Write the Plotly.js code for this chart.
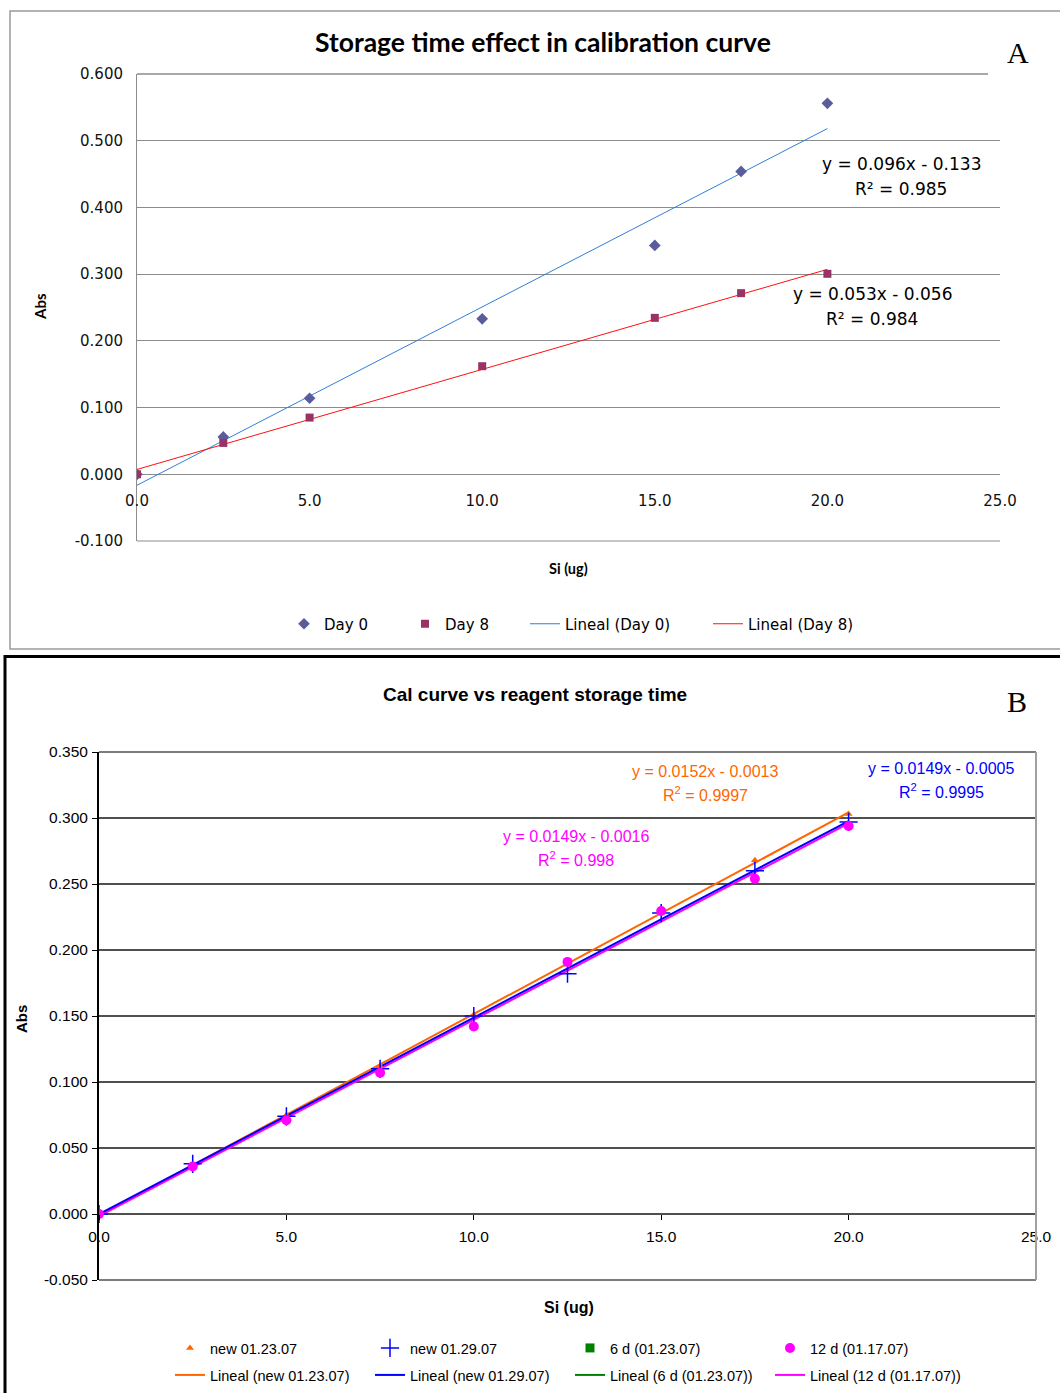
<!DOCTYPE html>
<html>
<head>
<meta charset="utf-8">
<script src="https://cdn.plot.ly/plotly-3.0.1.min.js"></script>
<style>
  html, body { margin: 0; padding: 0; background: #fff; }
  #chart { width: 1060px; height: 1393px; }
</style>
</head>
<body>
<div id="chart"></div>
<script>
// ---------- Chart A data ----------
const xA = [0, 2.5, 5, 10, 15, 17.5, 20];
const day0 = [0, 0.056, 0.114, 0.233, 0.343, 0.454, 0.556];
const day8 = [0, 0.047, 0.085, 0.162, 0.2345, 0.2715, 0.3005];
const namesA = ['Day 0', 'Day 8', 'Lineal (Day 0)', 'Lineal (Day 8)'];
const xTickValsA = [0, 5, 10, 15, 20, 25];
const xTickTextA = ['0.0', '5.0', '10.0', '15.0', '20.0', '25.0'];
const yTickValsA = [-0.1, 0, 0.1, 0.2, 0.3, 0.4, 0.5, 0.6];
const yTickTextA = ['-0.100', '0.000', '0.100', '0.200', '0.300', '0.400', '0.500', '0.600'];
const eqA0 = ['y = 0.096x - 0.133', 'R² = 0.985'];
const eqA8 = ['y = 0.053x - 0.056', 'R² = 0.984'];

// ---------- Chart B data ----------
const xB = [0, 2.5, 5, 7.5, 10, 12.5, 15, 17.5, 20];
const new0123 = [0, 0.037, 0.075, 0.112, 0.151, 0.189, 0.229, 0.268, 0.303];
const new0129 = [0, 0.038, 0.074, 0.110, 0.150, 0.182, 0.228, 0.260, 0.297];
const d6_0123 = [null];
const d12_0117 = [0, 0.036, 0.071, 0.107, 0.142, 0.191, 0.2295, 0.254, 0.294];
const namesB = ['new 01.23.07', 'new 01.29.07', '6 d (01.23.07)', '12 d (01.17.07)'];
const xTickValsB = [0, 5, 10, 15, 20, 25];
const xTickTextB = ['0.0', '5.0', '10.0', '15.0', '20.0', '25.0'];
const yTickValsB = [-0.05, 0, 0.05, 0.1, 0.15, 0.2, 0.25, 0.3, 0.35];
const yTickTextB = ['-0.050', '0.000', '0.050', '0.100', '0.150', '0.200', '0.250', '0.300', '0.350'];
const eqBorange = ['y = 0.0152x - 0.0013', 'R<sup>2</sup> = 0.9997'];
const eqBblue = ['y = 0.0149x - 0.0005', 'R<sup>2</sup> = 0.9995'];
const eqBmag = ['y = 0.0149x - 0.0016', 'R<sup>2</sup> = 0.998'];

// ---------- helpers ----------
const W = 1060, H = 1393;
const px = v => v / W;
const py = v => 1 - v / H;

function fitLine(xs, ys) {
  const pts = xs.map((x, i) => [x, ys[i]]).filter(p => p[1] !== null && p[1] !== undefined);
  if (pts.length < 2) return { x: [null], y: [null] };
  const n = pts.length;
  const mx = pts.reduce((s, p) => s + p[0], 0) / n;
  const my = pts.reduce((s, p) => s + p[1], 0) / n;
  let sxy = 0, sxx = 0;
  pts.forEach(p => { sxy += (p[0] - mx) * (p[1] - my); sxx += (p[0] - mx) ** 2; });
  const b = sxy / sxx, a = my - b * mx;
  const xmin = Math.min(...pts.map(p => p[0])), xmax = Math.max(...pts.map(p => p[0]));
  return { x: [xmin, xmax], y: [a + b * xmin, a + b * xmax] };
}

const fontA = 'DejaVu Sans, sans-serif';
const fontAbold = 'Lato, Calibri, sans-serif';
const fontB = 'Liberation Sans, Arial, sans-serif';

// ---------- traces ----------
const fA0 = fitLine(xA, day0), fA8 = fitLine(xA, day8);
const fB1 = fitLine(xB, new0123), fB2 = fitLine(xB, new0129), fB3 = fitLine(xB, d6_0123), fB4 = fitLine(xB, d12_0117);

const traces = [
  // Chart A lines
  { x: fA0.x, y: fA0.y, xaxis: 'x', yaxis: 'y', mode: 'lines', name: namesA[2], line: { color: '#2f7fd8', width: 1 }, legend: 'legend', legendrank: 3, legendwidth: 138 },
  { x: fA8.x, y: fA8.y, xaxis: 'x', yaxis: 'y', mode: 'lines', name: namesA[3], line: { color: '#ff1010', width: 1 }, legend: 'legend', legendrank: 4 },
  // Chart A markers
  { x: xA, y: day0, xaxis: 'x', yaxis: 'y', mode: 'markers', name: namesA[0], marker: { symbol: 'diamond', size: 9, color: '#5b5d9b' }, legend: 'legend', legendrank: 1, legendwidth: 76 },
  { x: xA, y: day8, xaxis: 'x', yaxis: 'y', mode: 'markers', name: namesA[1], marker: { symbol: 'square', size: 8, color: '#993366' }, legend: 'legend', legendrank: 2, legendwidth: 75 },

  // Chart B lines
  { x: fB1.x, y: fB1.y, xaxis: 'x2', yaxis: 'y2', mode: 'lines', name: 'Lineal (' + namesB[0] + ')', line: { color: '#ff6600', width: 2 }, legend: 'legend3', legendrank: 1, legendwidth: 155 },
  { x: fB3.x, y: fB3.y, xaxis: 'x2', yaxis: 'y2', mode: 'lines', name: 'Lineal (' + namesB[2] + ')', line: { color: '#008000', width: 2 }, legend: 'legend3', legendrank: 3, legendwidth: 155 },
  { x: fB4.x, y: fB4.y, xaxis: 'x2', yaxis: 'y2', mode: 'lines', name: 'Lineal (' + namesB[3] + ')', line: { color: '#ff00ff', width: 2 }, legend: 'legend3', legendrank: 4, legendwidth: 155 },
  { x: fB2.x, y: fB2.y, xaxis: 'x2', yaxis: 'y2', mode: 'lines', name: 'Lineal (' + namesB[1] + ')', line: { color: '#0000ff', width: 2 }, legend: 'legend3', legendrank: 2, legendwidth: 155 },
  // Chart B markers
  { x: xB, y: new0123, xaxis: 'x2', yaxis: 'y2', mode: 'markers', name: namesB[0], marker: { symbol: 'triangle-up', size: 7, color: '#ff6600' }, legend: 'legend2', legendrank: 1, legendwidth: 155 },
  { x: xB, y: new0129, xaxis: 'x2', yaxis: 'y2', mode: 'markers', name: namesB[1], marker: { symbol: 'cross-thin-open', size: 13, color: '#0000ff', line: { width: 1.5, color: '#0000ff' } }, legend: 'legend2', legendrank: 2, legendwidth: 155 },
  { x: xB, y: d6_0123, xaxis: 'x2', yaxis: 'y2', mode: 'markers', name: namesB[2], marker: { symbol: 'square', size: 9, color: '#008000' }, legend: 'legend2', legendrank: 3, legendwidth: 155 },
  { x: xB, y: d12_0117, xaxis: 'x2', yaxis: 'y2', mode: 'markers', name: namesB[3], marker: { symbol: 'circle', size: 10, color: '#ff00ff' }, legend: 'legend2', legendrank: 4, legendwidth: 155 }
];

// ---------- geometry ----------
const domXA = [px(137), px(1000)];
const domYA = [py(541), py(74)];
const domXB = [px(99), px(1036)];
const domYB = [py(1280), py(752)];
const zeroPosA = domYA[0] + (domYA[1] - domYA[0]) * (0.1 / 0.7);
const zeroPosB = domYB[0] + (domYB[1] - domYB[0]) * (0.05 / 0.40);

function ann(text, x, y, font, extra) {
  return Object.assign({ text, x: px(x), y: py(y), xref: 'paper', yref: 'paper', showarrow: false, xanchor: 'center', yanchor: 'middle', font }, extra || {});
}

const annotations = [
  ann('Storage time effect in calibration curve', 543, 42, { family: fontAbold, size: 26.5, color: '#000', weight: 'bold' }),
  ann('A', 1018, 53, { family: 'Liberation Serif, Times New Roman, serif', size: 30, color: '#000' }),
  ann('Abs', 40, 307, { family: fontAbold, size: 15, color: '#000', weight: 'bold' }, { textangle: -90 }),
  ann('Si (ug)', 568, 568, { family: fontAbold, size: 14.5, color: '#000', weight: 'bold' }),
  ann(eqA0[0], 901, 164, { family: fontA, size: 17, color: '#000' }),
  ann(eqA0[1], 901, 189, { family: fontA, size: 17, color: '#000' }),
  ann(eqA8[0], 872, 294, { family: fontA, size: 17, color: '#000' }),
  ann(eqA8[1], 872, 319, { family: fontA, size: 17, color: '#000' }),

  ann('Cal curve vs reagent storage time', 535, 694, { family: fontB, size: 19, color: '#000', weight: 'bold' }),
  ann('B', 1017, 701, { family: 'Liberation Serif, Times New Roman, serif', size: 30, color: '#000' }),
  ann('Abs', 21, 1019, { family: fontB, size: 15, color: '#000', weight: 'bold' }, { textangle: -90 }),
  ann('Si (ug)', 569, 1307, { family: fontB, size: 16, color: '#000', weight: 'bold' }),
  ann(eqBorange[0], 705, 771, { family: fontB, size: 16, color: '#ff6600' }),
  ann(eqBorange[1], 705, 794, { family: fontB, size: 16, color: '#ff6600' }),
  ann(eqBblue[0], 941, 768, { family: fontB, size: 16, color: '#0000ff' }),
  ann(eqBblue[1], 941, 791, { family: fontB, size: 16, color: '#0000ff' }),
  ann(eqBmag[0], 576, 836, { family: fontB, size: 16, color: '#ff00ff' }),
  ann(eqBmag[1], 576, 859, { family: fontB, size: 16, color: '#ff00ff' })
];

const shapes = [
  // outer frames
  { type: 'rect', xref: 'paper', yref: 'paper', x0: px(10), x1: px(1070), y0: py(11), y1: py(649), line: { color: '#9a9a9a', width: 1.5 } },
  { type: 'rect', xref: 'paper', yref: 'paper', x0: px(5), x1: px(1075), y0: py(656.5), y1: py(1400), line: { color: '#000', width: 3 } },
  // chart A top and bottom edges of plot area
  { type: 'line', xref: 'paper', yref: 'paper', x0: px(137), x1: px(988), y0: py(74), y1: py(74), line: { color: '#8c8c8c', width: 1.5 } },
  { type: 'line', xref: 'paper', yref: 'paper', x0: px(137), x1: px(1000), y0: py(541), y1: py(541), line: { color: '#8c8c8c', width: 1 } },
  // chart B top, bottom, right edges
  { type: 'line', xref: 'paper', yref: 'paper', x0: px(99), x1: px(1036), y0: py(752), y1: py(752), line: { color: '#505050', width: 1.5 } },
  { type: 'line', xref: 'paper', yref: 'paper', x0: px(99), x1: px(1036), y0: py(1280), y1: py(1280), line: { color: '#505050', width: 1.5 } },
  { type: 'line', xref: 'paper', yref: 'paper', x0: px(1036), x1: px(1036), y0: py(752), y1: py(1280), line: { color: '#a0a0a0', width: 2 } }
];

const layout = {
  width: W, height: H,
  margin: { l: 0, r: 0, t: 0, b: 0, pad: 0 },
  paper_bgcolor: '#fff', plot_bgcolor: 'rgba(0,0,0,0)',
  showlegend: true,
  xaxis: {
    domain: domXA, range: [0, 25], anchor: 'free', position: zeroPosA,
    tickvals: xTickValsA, ticktext: xTickTextA, showgrid: false, zeroline: false, showline: false,
    ticks: '', ticklabelstandoff: 16, tickfont: { family: fontA, size: 15, color: '#111' }
  },
  yaxis: {
    domain: domYA, range: [-0.1, 0.6], anchor: 'x',
    tickvals: yTickValsA, ticktext: yTickTextA, showgrid: true, gridcolor: '#8c8c8c', gridwidth: 1,
    zeroline: false, showline: true, linecolor: '#8c8c8c', linewidth: 1, ticks: '',
    ticklabelstandoff: 10, tickfont: { family: fontA, size: 15, color: '#111' }
  },
  xaxis2: {
    domain: domXB, range: [0, 25], anchor: 'free', position: zeroPosB,
    tickvals: xTickValsB, ticktext: xTickTextB, showgrid: false, zeroline: false, showline: false,
    ticks: 'outside', ticklen: 5, tickcolor: '#000', tickwidth: 1,
    ticklabelstandoff: 3, tickfont: { family: fontB, size: 15.5, color: '#000' }
  },
  yaxis2: {
    domain: domYB, range: [-0.05, 0.35], anchor: 'x2',
    tickvals: yTickValsB, ticktext: yTickTextB, showgrid: true, gridcolor: '#505050', gridwidth: 1.5,
    zeroline: false, showline: true, linecolor: '#000', linewidth: 2,
    ticks: 'outside', ticklen: 5, tickcolor: '#000', tickwidth: 1,
    ticklabelstandoff: 1, tickfont: { family: fontB, size: 15.5, color: '#000' }
  },
  legend: {
    x: px(284), y: py(624), xanchor: 'left', yanchor: 'middle', orientation: 'h',
    font: { family: fontA, size: 15, color: '#000' }, bgcolor: 'rgba(0,0,0,0)', borderwidth: 0
  },
  legend2: {
    x: px(170), y: py(1348), xanchor: 'left', yanchor: 'middle', orientation: 'h',
    font: { family: fontB, size: 14.5, color: '#000' }, bgcolor: 'rgba(0,0,0,0)', borderwidth: 0
  },
  legend3: {
    x: px(170), y: py(1375), xanchor: 'left', yanchor: 'middle', orientation: 'h',
    font: { family: fontB, size: 14.5, color: '#000' }, bgcolor: 'rgba(0,0,0,0)', borderwidth: 0
  },
  annotations, shapes
};

Plotly.newPlot('chart', traces, layout, { displayModeBar: false, staticPlot: true });
</script>
</body>
</html>
